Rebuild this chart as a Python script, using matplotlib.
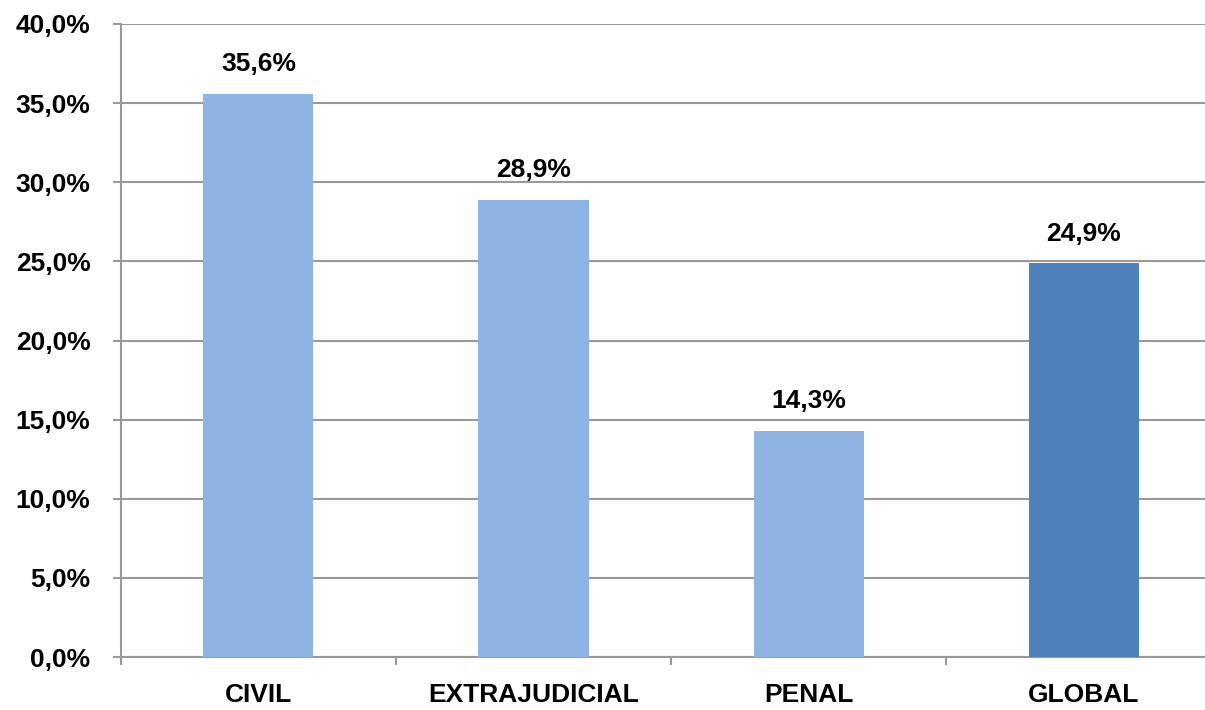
import matplotlib
matplotlib.use('Agg')
import matplotlib.pyplot as plt
import numpy as np

categories = ['CIVIL', 'EXTRAJUDICIAL', 'PENAL', 'GLOBAL']
values = [35.6, 28.9, 14.3, 24.9]
bar_colors = ['#8EB4E3', '#8EB4E3', '#8EB4E3', '#4F81BD']
yticks = [0, 5, 10, 15, 20, 25, 30, 35, 40]

plt.rcParams['font.family'] = ['Liberation Sans', 'DejaVu Sans']
plt.rcParams['font.weight'] = 'bold'

fig = plt.figure(figsize=(12.05, 7.10), dpi=100)
# the plot area runs a little past the right edge, as in the original
ax = fig.add_axes([0.1004, 0.0746, 0.9129, 0.8916])

x = np.arange(len(categories))
ax.bar(x, values, width=0.4, color=bar_colors, zorder=3)

for xi, v in zip(x, values):
    ax.text(xi, v + 1.1, ('%.1f%%' % v).replace('.', ','), ha='center', va='bottom',
            fontsize=19, fontweight='bold')

ax.set_xlim(-0.5, 3.5)
ax.set_ylim(0, 40)
ax.set_yticks(yticks)
ax.set_yticklabels([('%.1f%%' % t).replace('.', ',') for t in yticks], fontsize=19, fontweight='bold')
ax.set_xticks(x)
ax.set_xticklabels(categories, fontsize=19, fontweight='bold')
ax.set_xticks(np.arange(-0.5, 4, 1), minor=True)

ax.tick_params(axis='x', which='major', length=0, pad=19)
ax.tick_params(axis='x', which='minor', length=6, color='#999999', width=1.5)
ax.tick_params(axis='y', length=6, color='#999999', width=1.5, pad=16)

ax.yaxis.grid(True, color='#999999', linewidth=1.5, zorder=0)
for side in ['top', 'right']:
    ax.spines[side].set_visible(False)
for side in ['left', 'bottom']:
    ax.spines[side].set_color('#999999')
    ax.spines[side].set_linewidth(1.5)

fig.savefig('out.png', dpi=100)
